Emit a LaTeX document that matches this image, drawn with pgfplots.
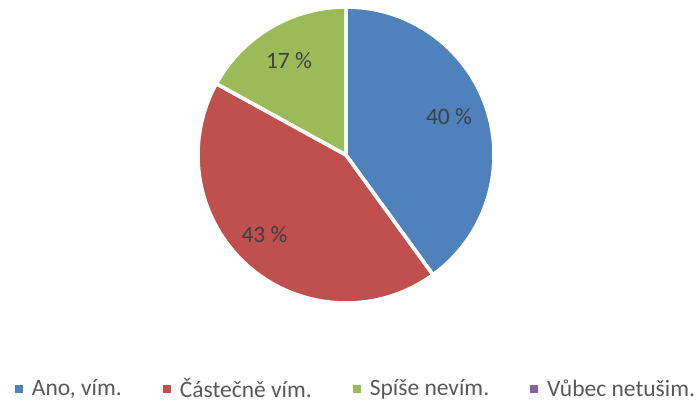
\documentclass[border=0pt]{standalone}
\usepackage{fontspec}
\setmainfont{Carlito}
\usepackage{pgfplots}
\pgfplotsset{compat=1.18}
\definecolor{cA}{HTML}{4F81BD}
\definecolor{cB}{HTML}{C0504D}
\definecolor{cC}{HTML}{9BBB59}
\definecolor{cD}{HTML}{8064A2}
\definecolor{labtext}{HTML}{404040}
\definecolor{legtext}{HTML}{595959}
% data (percent)
\def\vA{40}\def\vB{43}\def\vC{17}\def\vD{0}
\pgfmathsetmacro\aA{90}
\pgfmathsetmacro\aB{\aA-3.6*\vA}
\pgfmathsetmacro\aC{\aB-3.6*\vB}
\pgfmathsetmacro\aD{\aC-3.6*\vC}
\def\cx{346}\def\cy{248}\def\R{148}
\newcommand\slice[3]{%
  \fill[#1] (axis cs:\cx,\cy) -- (axis cs:{\cx+\R*cos(#2)},{\cy+\R*sin(#2)}) arc[start angle=#2, end angle=#3, radius=\R bp] -- cycle;}
\newcommand\sliceborder[2]{%
  \draw[white, line width=3.5bp, line join=round] (axis cs:\cx,\cy) -- (axis cs:{\cx+\R*cos(#1)},{\cy+\R*sin(#1)}) arc[start angle=#1, end angle=#2, radius=\R bp] -- cycle;}
\begin{document}
\begin{tikzpicture}
\useasboundingbox (0,0) rectangle (700bp,403bp);
\begin{axis}[
  at={(0,0)}, anchor=south west,
  scale only axis, width=700bp, height=403bp,
  xmin=0, xmax=700, ymin=0, ymax=403,
  hide axis, clip=false,
  legend columns=4,
  legend style={at={(axis cs:15,4)}, anchor=south west, draw=none, fill=none,
    inner sep=0pt, outer sep=0pt,
    font=\fontsize{23.5bp}{28bp}\selectfont, text=legtext,
    nodes={inner sep=0pt},
    /tikz/every odd column/.append style={column sep=9bp},
    /tikz/every even column/.append style={column sep=41bp}},
  legend image code/.code={\fill[#1] (0bp,-4bp) rectangle (8bp,4bp);},
]
\slice{cA}{\aA}{\aB}
\slice{cB}{\aB}{\aC}
\slice{cC}{\aC}{\aD}
\sliceborder{\aA}{\aB}
\sliceborder{\aB}{\aC}
\sliceborder{\aC}{\aD}
\node[text=labtext, font=\fontsize{23.5bp}{28bp}\selectfont, inner sep=0pt] at (axis cs:449,286.3) {40 \%};
\node[text=labtext, font=\fontsize{23.5bp}{28bp}\selectfont, inner sep=0pt] at (axis cs:264.5,168) {43 \%};
\node[text=labtext, font=\fontsize{23.5bp}{28bp}\selectfont, inner sep=0pt] at (axis cs:289,342.2) {17 \%};
\addlegendimage{fill=cA, draw=none}
\addlegendentry{Ano, vím.}
\addlegendimage{fill=cB, draw=none}
\addlegendentry{Částečně vím.}
\addlegendimage{fill=cC, draw=none}
\addlegendentry{Spíše nevím.}
\addlegendimage{fill=cD, draw=none}
\addlegendentry{Vůbec netušim.}
\end{axis}
\end{tikzpicture}
\end{document}
